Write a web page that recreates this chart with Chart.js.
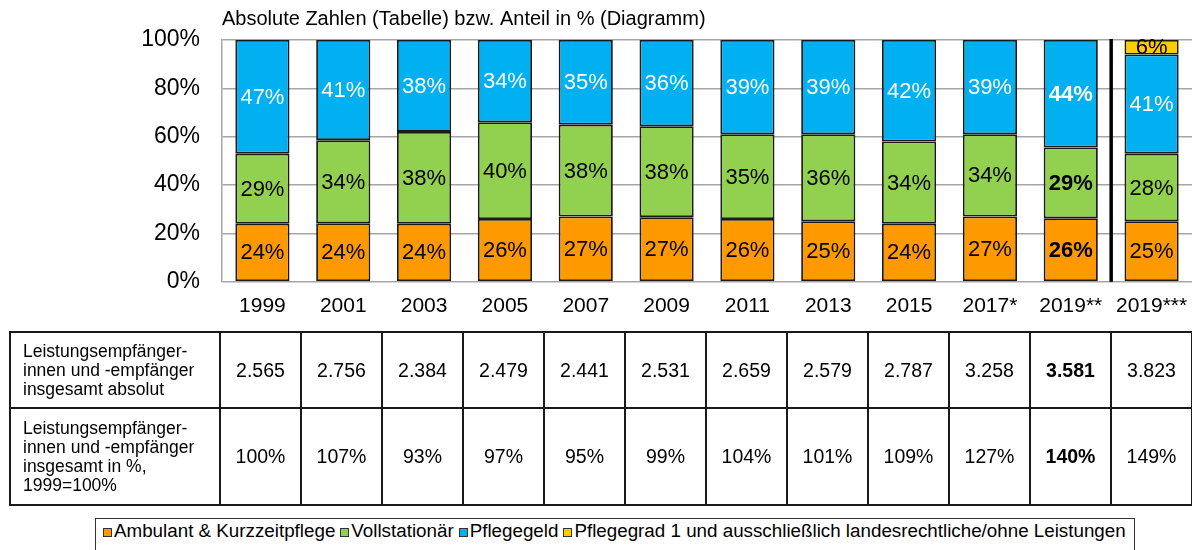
<!DOCTYPE html>
<html><head><meta charset="utf-8">
<script src="https://cdn.jsdelivr.net/npm/chart.js@4.4.1/dist/chart.umd.min.js"></script>
<style>
html,body{margin:0;padding:0;background:#fff;width:1192px;height:550px;overflow:hidden;font-family:"Liberation Sans",Arial,sans-serif;}
#wrap{position:relative;width:1192px;height:550px;}
#c{position:absolute;left:0;top:0;}
#tbl{position:absolute;left:9px;top:331px;border-collapse:collapse;table-layout:fixed;}
#tbl td{border:2px solid #1a1a1a;padding:0;text-align:center;font-size:19.5px;color:#000;}
#tbl td.lab{text-align:left;font-size:17.5px;line-height:19px;padding-left:12px;}
#tbl td.b{font-weight:bold;}
#legend{position:absolute;left:95px;top:518px;width:1040px;height:40px;border:1.5px solid #333;box-sizing:border-box;font-size:18.8px;color:#000;display:flex;gap:5px;padding-left:7px;padding-top:1px;}
.li{white-space:nowrap;line-height:22px;}
.mk{display:inline-block;width:9px;height:9px;border:1.5px solid #333;box-sizing:border-box;margin-right:2px;vertical-align:0px;}
</style>
</head><body>
<div id="wrap">
<canvas id="c" width="1192" height="336"></canvas>
<table id="tbl"><colgroup id="cg"></colgroup><tbody id="tb"></tbody></table>
<div id="legend"></div>
</div>
<script>
const categories = ['1999','2001','2003','2005','2007','2009','2011','2013','2015','2017*','2019**','2019***'];
const ambulant = [24,24,24,26,27,27,26,25,24,27,26,25];
const vollstationaer = [29,34,38,40,38,38,35,36,34,34,29,28];
const pflegegeld = [47,41,38,34,35,36,39,39,42,39,44,41];
const pflegegrad1 = [null,null,null,null,null,null,null,null,null,null,null,6];
const totalAbsolute = [2565,2756,2384,2479,2441,2531,2659,2579,2787,3258,3581,3823];
const totalIndex = [100,107,93,97,95,99,104,101,109,127,140,149];
const yTicks = [0,20,40,60,80,100];
const seriesNames = ['Ambulant & Kurzzeitpflege','Vollstationär','Pflegegeld','Pflegegrad 1 und ausschließlich landesrechtliche/ohne Leistungen'];
const rowLabels = ['Leistungsempfänger-<br>innen und -empfänger<br>insgesamt absolut','Leistungsempfänger-<br>innen und -empfänger<br>insgesamt in %,<br>1999=100%'];
const titleText = 'Absolute Zahlen (Tabelle) bzw. Anteil in % (Diagramm)';
const highlightIndex = 10;
const separatorAfter = 10;

const colors = ['#FF9900','#92D050','#00B0F0','#FFCC00'];
const labelColors = ['#000','#000','#fff','#000'];
const FONT = '"Liberation Sans", Arial, sans-serif';

const seriesValues = [ambulant, vollstationaer, pflegegeld, pflegegrad1];
const sums = categories.map((_,i)=>seriesValues.reduce((s,a)=>s+(a[i]||0),0));

const datasets = seriesValues.map((arr,k)=>({
  label: seriesNames[k],
  data: arr.map((v,i)=>v==null?null:v*100/sums[i]),
  rawValues: arr,
  labelColor: labelColors[k],
  backgroundColor: colors[k],
  borderColor: '#1a1a1a',
  borderWidth: 1.8,
  borderSkipped: false,
  barPercentage: 0.67,
  categoryPercentage: 1.0
}));

const segLabels = {
  id:'segLabels',
  afterDatasetsDraw(chart){
    const ctx = chart.ctx;
    chart.data.datasets.forEach((ds,di)=>{
      const meta = chart.getDatasetMeta(di);
      meta.data.forEach((el,i)=>{
        const v = ds.rawValues[i];
        if(v==null) return;
        const p = el.getProps(['x','y','base'],true);
        ctx.save();
        ctx.font = (i===highlightIndex?'bold ':'')+'22px '+FONT;
        ctx.fillStyle = ds.labelColor;
        ctx.textAlign='center'; ctx.textBaseline='middle';
        ctx.fillText(v+'%', p.x, (p.y+p.base)/2+1);
        ctx.restore();
      });
    });
  }
};
const extras = {
  id:'extras',
  afterDraw(chart){
    const ctx = chart.ctx, ca = chart.chartArea, xs = chart.scales.x;
    ctx.save();
    ctx.font = '20px '+FONT;
    ctx.fillStyle = '#000';
    ctx.textAlign='left'; ctx.textBaseline='middle';
    ctx.fillText(titleText, ca.left, 19);
    const sx = (xs.getPixelForValue(separatorAfter)+xs.getPixelForValue(separatorAfter+1))/2;
    ctx.strokeStyle='#000'; ctx.lineWidth=3.5;
    ctx.beginPath(); ctx.moveTo(sx, ca.top-1); ctx.lineTo(sx, ca.bottom); ctx.stroke();
    ctx.restore();
  }
};

new Chart(document.getElementById('c'), {
  type:'bar',
  data:{labels:categories, datasets},
  options:{
    responsive:false, animation:false,
    layout:{padding:{top:40,bottom:13,left:0,right:0}},
    plugins:{legend:{display:false},tooltip:{enabled:false},title:{display:false}},
    scales:{
      x:{stacked:true, grid:{display:false}, border:{display:false},
         ticks:{color:'#000', font:{family:FONT,size:21}, padding:4, maxRotation:0, autoSkip:false}},
      y:{stacked:true, min:0, max:100,
         afterBuildTicks(s){ s.ticks = yTicks.map(v=>({value:v})); },
         afterFit(s){ s.width = 222; },
         grid:{color:'#a6a6a6', lineWidth:1.5, drawTicks:false},
         border:{display:true,color:'#a6a6a6',width:1.5},
         ticks:{color:'#000', font:{family:FONT,size:23}, padding:22, callback:v=>v+'%'}}
    }
  },
  plugins:[segLabels, extras]
});

// table
const fmt = n => { const s=String(n); return s.length>3 ? s.slice(0,s.length-3)+'.'+s.slice(-3) : s; };
const cg = document.getElementById('cg');
let cgh = '<col style="width:210px">';
categories.forEach(()=>{ cgh += '<col style="width:81px">'; });
cg.innerHTML = cgh;
const rows = [totalAbsolute.map(fmt), totalIndex.map(v=>v+'%')];
const heights = [76, 97];
let tb = '';
rows.forEach((r,ri)=>{
  tb += '<tr style="height:'+heights[ri]+'px"><td class="lab">'+rowLabels[ri]+'</td>';
  r.forEach((v,i)=>{ tb += '<td'+(i===highlightIndex?' class="b"':'')+'>'+v+'</td>'; });
  tb += '</tr>';
});
document.getElementById('tb').innerHTML = tb;
document.getElementById('tbl').style.width = (210+81*categories.length)+'px';

// legend
const lg = document.getElementById('legend');
seriesNames.forEach((n,k)=>{
  const d = document.createElement('div');
  d.className='li';
  d.innerHTML = '<span class="mk" style="background:'+colors[k]+'"></span>'+n;
  lg.appendChild(d);
});
</script>
</body></html>
